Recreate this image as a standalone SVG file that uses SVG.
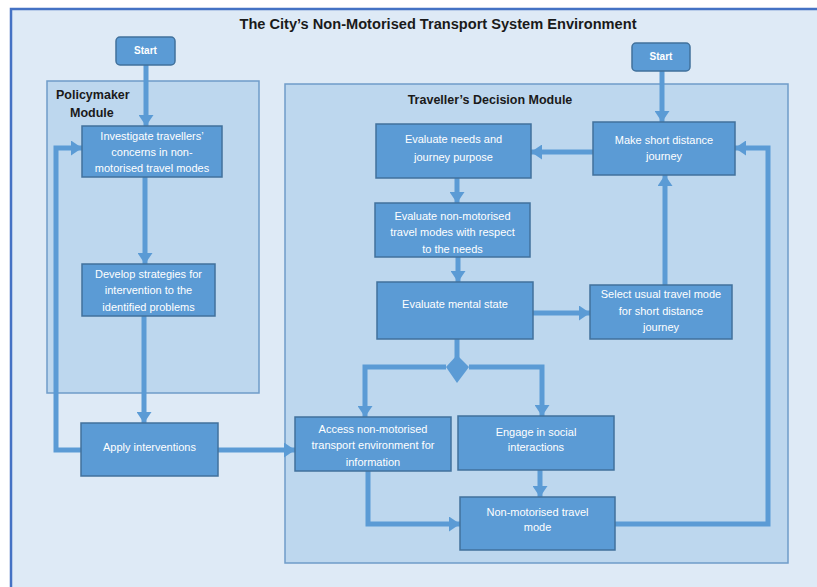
<svg xmlns="http://www.w3.org/2000/svg" width="817" height="587" viewBox="0 0 817 587">
<defs>
<marker id="ah" markerUnits="userSpaceOnUse" markerWidth="11" markerHeight="15" refX="11" refY="7.5" orient="auto">
<path d="M0,0 L11,7.5 L0,15 z" fill="#5B9BD5"/>
</marker>
<style>
.node{fill:#5B9BD5;stroke:#41719C;stroke-width:1.5}
.nt{fill:#ffffff;font-family:"Liberation Sans",Arial,sans-serif;font-size:11px;text-anchor:middle}
.st{fill:#ffffff;font-family:"Liberation Sans",Arial,sans-serif;font-size:10px;font-weight:bold;text-anchor:middle}
.mod{fill:#BDD7EE;stroke:#6F9CC9;stroke-width:1.5}
.ml{fill:#1a1a1a;font-family:"Liberation Sans",Arial,sans-serif;font-size:12.5px;font-weight:bold}
.c{fill:none;stroke:#5B9BD5;stroke-width:5;marker-end:url(#ah)}
.cn{fill:none;stroke:#5B9BD5;stroke-width:5}
</style>
</defs>
<rect x="0" y="0" width="817" height="587" fill="#ffffff"/>
<rect x="11" y="9" width="820" height="600" fill="#DEEAF6" stroke="#4472C4" stroke-width="2.5"/>
<text x="438" y="29" text-anchor="middle" font-family="Liberation Sans,Arial,sans-serif" font-size="14.5" font-weight="bold" fill="#1a1a1a" textLength="397" lengthAdjust="spacingAndGlyphs">The City’s Non-Motorised Transport System Environment</text>

<g id="policymaker-module">
<rect class="mod" x="47" y="81" width="212" height="312"/>
<text class="ml" x="56" y="99">Policymaker</text>
<text class="ml" x="70" y="117">Module</text>
</g>
<g id="traveller-module">
<rect class="mod" x="285" y="84" width="503" height="479"/>
<text class="ml" x="490" y="104" text-anchor="middle">Traveller’s Decision Module</text>
</g>

<g id="connectors">
<polyline class="c" points="146,65 146,126"/>
<polyline class="c" points="145,177 145,264"/>
<polyline class="c" points="144,316 144,423"/>
<polyline class="c" points="81,450 56,450 56,148 82,148"/>
<polyline class="c" points="218,450 295,450"/>
<polyline class="c" points="662,71 662,122"/>
<polyline class="c" points="593,152 531,152"/>
<polyline class="c" points="457,178 457,203"/>
<polyline class="c" points="458,257 458,282"/>
<polyline class="c" points="533,313 590,313"/>
<polyline class="c" points="665,285 665,175"/>
<polyline class="cn" points="457,339 457,358"/>
<polygon points="457,355 469,367 457,383 446,367" fill="#5B9BD5"/>
<polyline class="c" points="446,367 365,367 365,417"/>
<polyline class="c" points="469,367 542,367 542,416"/>
<polyline class="c" points="540,470 540,497"/>
<polyline class="c" points="368,471 368,524 460,524"/>
<polyline class="c" points="615,524 768,524 768,148 735,148"/>
</g>

<g id="start-left">
<rect class="node" x="116" y="37" width="59" height="28" rx="4"/>
<text class="st" x="145.5" y="54">Start</text>
</g>
<g id="start-right">
<rect class="node" x="632" y="43" width="58" height="28" rx="4"/>
<text class="st" x="661" y="60">Start</text>
</g>
<g id="investigate">
<rect class="node" x="82" y="126" width="140" height="51"/>
<text class="nt" x="152" y="140">Investigate travellers’</text>
<text class="nt" x="152" y="156">concerns in non-</text>
<text class="nt" x="152" y="172">motorised travel modes</text>
</g>
<g id="develop">
<rect class="node" x="82" y="264" width="133" height="52"/>
<text class="nt" x="148.5" y="278">Develop strategies for</text>
<text class="nt" x="148.5" y="294">intervention to the</text>
<text class="nt" x="148.5" y="311">identified problems</text>
</g>
<g id="apply">
<rect class="node" x="81" y="423" width="137" height="53"/>
<text class="nt" x="149.5" y="451">Apply interventions</text>
</g>
<g id="evaluate-needs">
<rect class="node" x="376" y="124" width="155" height="54"/>
<text class="nt" x="453.5" y="143">Evaluate needs and</text>
<text class="nt" x="453.5" y="161">journey purpose</text>
</g>
<g id="evaluate-modes">
<rect class="node" x="375" y="203" width="155" height="54"/>
<text class="nt" x="452.5" y="220">Evaluate non-motorised</text>
<text class="nt" x="452.5" y="236">travel modes with respect</text>
<text class="nt" x="452.5" y="253">to the needs</text>
</g>
<g id="evaluate-mental">
<rect class="node" x="377" y="282" width="156" height="57"/>
<text class="nt" x="455" y="308">Evaluate mental state</text>
</g>
<g id="make-journey">
<rect class="node" x="593" y="122" width="142" height="53"/>
<text class="nt" x="664" y="144">Make short distance</text>
<text class="nt" x="664" y="160">journey</text>
</g>
<g id="select-usual">
<rect class="node" x="590" y="285" width="142" height="54"/>
<text class="nt" x="661" y="298">Select usual travel mode</text>
<text class="nt" x="661" y="315">for short distance</text>
<text class="nt" x="661" y="331">journey</text>
</g>
<g id="access-env">
<rect class="node" x="295" y="417" width="156" height="54"/>
<text class="nt" x="373" y="433">Access non-motorised</text>
<text class="nt" x="373" y="449">transport environment for</text>
<text class="nt" x="373" y="466">information</text>
</g>
<g id="engage-social">
<rect class="node" x="458" y="416" width="156" height="54"/>
<text class="nt" x="536" y="436">Engage in social</text>
<text class="nt" x="536" y="451">interactions</text>
</g>
<g id="nm-travel-mode">
<rect class="node" x="460" y="497" width="155" height="53"/>
<text class="nt" x="537.5" y="516">Non-motorised travel</text>
<text class="nt" x="537.5" y="531">mode</text>
</g>
</svg>
